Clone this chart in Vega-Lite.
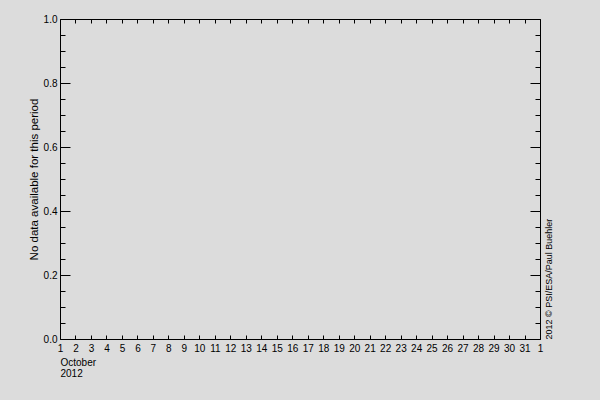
{
  "$schema": "https://vega.github.io/schema/vega-lite/v6.json",
  "width": 480,
  "height": 320,
  "autosize": "none",
  "padding": {"left": 60, "top": 19, "right": 60, "bottom": 61},
  "background": "#dcdcdc",
  "config": {
    "view": {"stroke": null},
    "font": "Liberation Sans",
    "axis": {
      "grid": false,
      "domainColor": "#000",
      "tickColor": "#000",
      "labelColor": "#000",
      "titleColor": "#000",
      "labelFont": "Liberation Sans",
      "titleFont": "Liberation Sans",
      "labelFontSize": 10,
      "titleFontSize": 10,
      "titleFontWeight": "normal",
      "labelOverlap": false,
      "labelFlush": false
    }
  },
  "data": {
    "values": [
      {"day": 1, "reading": null}, {"day": 2, "reading": null}, {"day": 3, "reading": null},
      {"day": 4, "reading": null}, {"day": 5, "reading": null}, {"day": 6, "reading": null},
      {"day": 7, "reading": null}, {"day": 8, "reading": null}, {"day": 9, "reading": null},
      {"day": 10, "reading": null}, {"day": 11, "reading": null}, {"day": 12, "reading": null},
      {"day": 13, "reading": null}, {"day": 14, "reading": null}, {"day": 15, "reading": null},
      {"day": 16, "reading": null}, {"day": 17, "reading": null}, {"day": 18, "reading": null},
      {"day": 19, "reading": null}, {"day": 20, "reading": null}, {"day": 21, "reading": null},
      {"day": 22, "reading": null}, {"day": 23, "reading": null}, {"day": 24, "reading": null},
      {"day": 25, "reading": null}, {"day": 26, "reading": null}, {"day": 27, "reading": null},
      {"day": 28, "reading": null}, {"day": 29, "reading": null}, {"day": 30, "reading": null},
      {"day": 31, "reading": null}
    ]
  },
  "layer": [
    {
      "mark": "line",
      "encoding": {
        "x": {
          "field": "day", "type": "quantitative",
          "scale": {"domain": [1, 32], "nice": false, "zero": false},
          "axis": {
            "orient": "bottom",
            "values": [1,2,3,4,5,6,7,8,9,10,11,12,13,14,15,16,17,18,19,20,21,22,23,24,25,26,27,28,29,30,31,32],
            "format": "d",
            "labelExpr": "datum.value == 32 ? '1' : datum.label",
            "tickSize": -4,
            "labelPadding": 8,
            "title": ["October", "2012"],
            "titleAnchor": "start",
            "titleAlign": "left",
            "titleLineHeight": 11,
            "titlePadding": 4
          }
        },
        "y": {
          "field": "reading", "type": "quantitative",
          "scale": {"domain": [0, 1], "nice": false, "zero": false},
          "axis": {
            "orient": "left",
            "values": [0, 0.2, 0.4, 0.6, 0.8, 1.0],
            "format": ".1f",
            "tickSize": -10,
            "labelPadding": 13,
            "title": "No data available for this period",
            "titleFontSize": 11.5,
            "titlePadding": 4
          }
        }
      }
    },
    {
      "mark": "line",
      "encoding": {
        "x": {
          "field": "day", "type": "quantitative",
          "scale": {"domain": [1, 32], "nice": false, "zero": false},
          "axis": {
            "orient": "top",
            "values": [1,2,3,4,5,6,7,8,9,10,11,12,13,14,15,16,17,18,19,20,21,22,23,24,25,26,27,28,29,30,31,32],
            "tickSize": -4,
            "labels": false,
            "title": null
          }
        },
        "y": {
          "field": "reading", "type": "quantitative",
          "scale": {"domain": [0, 1], "nice": false, "zero": false},
          "axis": {
            "orient": "left",
            "values": [0.05, 0.1, 0.15, 0.25, 0.3, 0.35, 0.45, 0.5, 0.55, 0.65, 0.7, 0.75, 0.85, 0.9, 0.95],
            "tickSize": -5,
            "labels": false,
            "domain": false,
            "title": null
          }
        }
      }
    },
    {
      "mark": "line",
      "encoding": {
        "x": {"field": "day", "type": "quantitative", "scale": {"domain": [1, 32], "nice": false, "zero": false}, "axis": null},
        "y": {
          "field": "reading", "type": "quantitative",
          "scale": {"domain": [0, 1], "nice": false, "zero": false},
          "axis": {
            "orient": "right",
            "values": [0, 0.2, 0.4, 0.6, 0.8, 1.0],
            "tickSize": -10,
            "labels": false,
            "title": "2012 © PSI/ESA/Paul Buehler",
            "titleFontSize": 9,
            "titleAngle": -90,
            "titleAnchor": "start",
            "titleAlign": "left",
            "titleBaseline": "middle",
            "titlePadding": 8
          }
        }
      }
    },
    {
      "mark": "line",
      "encoding": {
        "x": {"field": "day", "type": "quantitative", "scale": {"domain": [1, 32], "nice": false, "zero": false}, "axis": null},
        "y": {
          "field": "reading", "type": "quantitative",
          "scale": {"domain": [0, 1], "nice": false, "zero": false},
          "axis": {
            "orient": "right",
            "values": [0.05, 0.1, 0.15, 0.25, 0.3, 0.35, 0.45, 0.5, 0.55, 0.65, 0.7, 0.75, 0.85, 0.9, 0.95],
            "tickSize": -5,
            "labels": false,
            "domain": false,
            "title": null
          }
        }
      }
    }
  ],
  "resolve": {"axis": {"x": "independent", "y": "independent"}}
}
